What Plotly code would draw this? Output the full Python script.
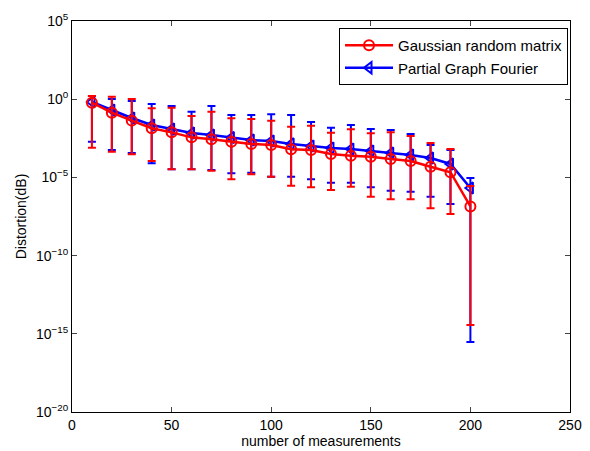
import plotly.graph_objects as go

# number of measurements
x_vals = [10, 20, 30, 40, 50, 60, 70, 80, 90, 100,
          110, 120, 130, 140, 150, 160, 170, 180, 190, 200]

# Gaussian random matrix: mean, upper and lower error-bar ends (log10)
gauss_log_mean = [-0.22, -0.86, -1.37, -1.86, -2.12, -2.44, -2.56, -2.72, -2.86, -2.93,
                  -3.20, -3.25, -3.50, -3.61, -3.68, -3.82, -3.95, -4.32, -4.67, -6.86]
gauss_log_high = [0.20, 0.16, 0.01, -0.58, -0.54, -1.07, -0.80, -1.22, -1.27, -1.37,
                  -1.76, -1.69, -2.14, -1.92, -2.18, -2.12, -2.35, -2.80, -3.18, -5.55]
gauss_log_low = [-3.10, -3.36, -3.52, -3.95, -4.48, -4.48, -4.57, -5.12, -4.80, -4.96,
                 -5.53, -5.63, -5.81, -5.59, -6.23, -6.40, -6.40, -6.98, -7.34, -14.44]

# Partial Graph Fourier
fourier_log_mean = [-0.18, -0.69, -1.20, -1.65, -1.91, -2.16, -2.29, -2.45, -2.61, -2.67,
                    -2.86, -2.99, -3.12, -3.18, -3.31, -3.44, -3.57, -3.76, -4.14, -5.68]
fourier_log_high = [0.20, 0.01, -0.12, -0.31, -0.43, -0.80, -0.43, -1.01, -1.01, -0.97,
                    -1.01, -1.46, -1.82, -1.65, -1.91, -1.97, -2.23, -2.93, -3.25, -5.04]
fourier_log_low = [-2.72, -3.25, -3.44, -4.10, -4.48, -4.48, -4.53, -4.74, -4.70, -4.96,
                   -4.96, -5.12, -5.34, -5.34, -5.63, -5.85, -5.91, -6.23, -6.70, -15.52]

y_tick_exps = [5, 0, -5, -10, -15, -20]
x_tick_vals = [0, 50, 100, 150, 200, 250]


def series(log_mean, log_high, log_low):
    m = [10 ** v for v in log_mean]
    up = [10 ** h - 10 ** v for h, v in zip(log_high, log_mean)]
    dn = [10 ** v - 10 ** l for v, l in zip(log_mean, log_low)]
    return m, up, dn


g_m, g_up, g_dn = series(gauss_log_mean, gauss_log_high, gauss_log_low)
f_m, f_up, f_dn = series(fourier_log_mean, fourier_log_high, fourier_log_low)

fig = go.Figure()
fig.add_trace(go.Scatter(
    x=x_vals, y=f_m, name="Partial Graph Fourier", legendrank=2,
    mode="lines+markers",
    line=dict(color="#0000ff", width=2.5),
    marker=dict(symbol="triangle-left-open", size=10, color="#0000ff",
                line=dict(width=2, color="#0000ff")),
    error_y=dict(type="data", symmetric=False, array=f_up, arrayminus=f_dn,
                 color="#0000ff", thickness=2, width=4),
))
fig.add_trace(go.Scatter(
    x=x_vals, y=g_m, name="Gaussian random matrix", legendrank=1,
    mode="lines+markers",
    line=dict(color="#ff0000", width=2.5),
    marker=dict(symbol="circle-open", size=10, color="#ff0000",
                line=dict(width=2, color="#ff0000")),
    error_y=dict(type="data", symmetric=False, array=g_up, arrayminus=g_dn,
                 color="#ff0000", thickness=2, width=4),
))

font_family = "Liberation Sans, Arial, sans-serif"

fig.update_layout(
    width=590, height=451,
    margin=dict(l=72, r=20, t=21, b=39, autoexpand=False),
    paper_bgcolor="white", plot_bgcolor="white",
    font=dict(family=font_family, size=13, color="black"),
    showlegend=True,
    legend=dict(x=0.996, y=0.982, xanchor="right", yanchor="top",
                bgcolor="white", bordercolor="black", borderwidth=1,
                font=dict(size=15, family=font_family), tracegroupgap=0,
                itemwidth=48),
)
fig.update_xaxes(
    range=[0, 250], tickvals=x_tick_vals, ticks="inside", ticklen=5,
    showline=True, linecolor="black", linewidth=1, mirror="ticks",
    showgrid=False, zeroline=False, automargin=False,
    title=dict(text="number of measurements", font=dict(size=14), standoff=2),
    tickfont=dict(size=14),
)
fig.update_yaxes(
    type="log", range=[-20, 5],
    tickvals=[10 ** e for e in y_tick_exps],
    ticktext=["10<sup>%s</sup>" % ("\u2212" + str(-e) if e < 0 else str(e)) for e in y_tick_exps],
    ticks="inside", ticklen=5,
    showline=True, linecolor="black", linewidth=1, mirror="ticks",
    showgrid=False, zeroline=False, automargin=False,
    title=dict(text="Distortion(dB)", font=dict(size=14), standoff=6),
    tickfont=dict(size=14),
)

fig.write_html(
    "out.html",
    config={"displayModeBar": False},
    post_script="document.body.style.margin='0px';document.body.style.overflow='hidden';",
)
